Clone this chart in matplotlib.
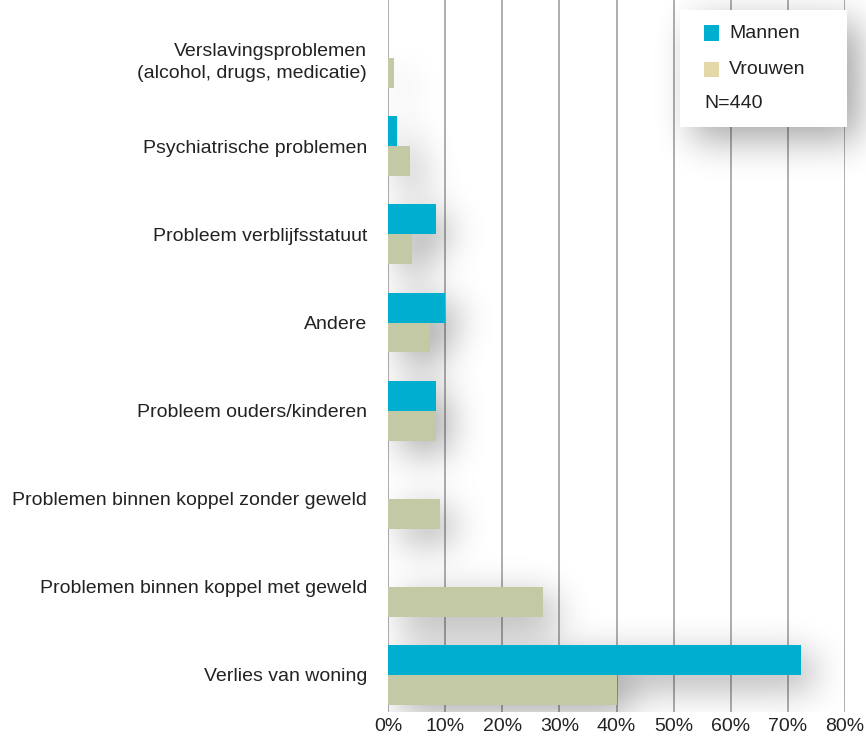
import numpy as np
import matplotlib.pyplot as plt
from matplotlib.patches import Rectangle

categories = [
    "Verslavingsproblemen\n(alcohol, drugs, medicatie)",
    "Psychiatrische problemen",
    "Probleem verblijfsstatuut",
    "Andere",
    "Probleem ouders/kinderen",
    "Problemen binnen koppel zonder geweld",
    "Problemen binnen koppel met geweld",
    "Verlies van woning",
]
mannen = [0.0, 1.5, 8.4, 10.0, 8.4, 0.0, 0.0, 72.3]
vrouwen = [1.0, 3.8, 4.2, 7.3, 8.4, 9.1, 27.1, 40.0]
xticks = [0, 10, 20, 30, 40, 50, 60, 70, 80]
n_label = "N=440"

blue = "#00AFCF"
green = "#C3C9A5"
beige_legend = "#E5D8A8"

plt.rcParams['font.family'] = ['Liberation Sans', 'DejaVu Sans']

fig = plt.figure(figsize=(8.66, 7.4), dpi=100)
ax = fig.add_axes([388 / 866, 1 - 712 / 740, 457 / 866, 712 / 740])

y = np.arange(len(categories))
h = 0.34
ylim = (len(categories) - 1 + 0.42, -0.66)
xlim = (0, 80)

# legend box position (axes fraction) and same box in data units for the shadow
lx0, lx1 = (680 - 388) / 457, (847 - 388) / 457
ly1, ly0 = 1 - 10 / 712, 1 - 127 / 712
yspan = ylim[0] - ylim[1]
leg_data = (lx0 * 80, lx1 * 80, ylim[0] - ly1 * yspan, ylim[0] - ly0 * yspan)

# soft drop shadow (blurred mask)
xmax_sh = 88
nx, ny = 620, 900
xs = np.linspace(xlim[0], xmax_sh, nx)
ys = np.linspace(ylim[1], ylim[0], ny)
X, Y = np.meshgrid(xs, ys)
mask = np.zeros_like(X)
dx, dy = 2.2, 0.14
for i in range(len(categories)):
    for val, top in ((mannen[i], y[i] - h), (vrouwen[i], y[i])):
        if val > 0:
            mask[(X >= dx) & (X <= val + dx) & (Y >= top + dy) & (Y <= top + h + dy)] = 1.0
a0, a1, b0, b1 = leg_data
mask[(X >= a0 + dx) & (X <= a1 + dx) & (Y >= b0 + dy) & (Y <= b1 + dy)] = 1.0


def blur(a, sigma, axis):
    r = int(3 * sigma)
    k = np.exp(-0.5 * (np.arange(-r, r + 1) / sigma) ** 2)
    k /= k.sum()
    pad = [(0, 0), (0, 0)]
    pad[axis] = (r, r)
    a = np.pad(a, pad)
    out = np.apply_along_axis(lambda m: np.convolve(m, k, mode='same'), axis, a)
    return out[r:-r, :] if axis == 0 else out[:, r:-r]


mask = blur(blur(mask, 24, 0), 22, 1)
shadow = np.zeros((ny, nx, 4))
shadow[..., 3] = np.clip(mask, 0, 1) * 0.36
ax.imshow(shadow, extent=(xlim[0], xmax_sh, ylim[0], ylim[1]), origin='upper',
          aspect='auto', zorder=1, interpolation='bilinear', clip_on=False)

ax.barh(y - h / 2, mannen, height=h, color=blue, zorder=3)
ax.barh(y + h / 2, vrouwen, height=h, color=green, zorder=3)

ax.set_xlim(*xlim)
ax.set_ylim(*ylim)
ax.set_yticks(y)
ax.set_yticklabels(categories, fontsize=14, color="#222222", linespacing=1.35)
ax.set_xticks(xticks)
ax.set_xticklabels([f"{t}%" for t in xticks], fontsize=14, color="#222222")
ax.tick_params(axis='both', length=0)
ax.tick_params(axis='y', pad=15)
ax.tick_params(axis='x', pad=4)
for s in ax.spines.values():
    s.set_visible(False)
ax.grid(axis='x', color="#A8A8A8", linewidth=1.3, zorder=2)
ax.set_axisbelow(True)

# legend box
ax.add_patch(Rectangle((lx0, ly0), lx1 - lx0, ly1 - ly0, transform=ax.transAxes,
                       facecolor='white', edgecolor='none', zorder=5, clip_on=False))
sq_w, sq_h = 15 / 457, 15 / 712
items = [("Mannen", blue, 33), ("Vrouwen", beige_legend, 70)]
for label, col, py in items:
    yc = 1 - py / 712
    ax.add_patch(Rectangle(((704 - 388) / 457, yc - sq_h / 2), sq_w, sq_h,
                           transform=ax.transAxes, facecolor=col, edgecolor='none',
                           zorder=6, clip_on=False))
    ax.text((729 - 388) / 457, yc, label, transform=ax.transAxes, fontsize=14,
            va='center', ha='left', color="#222222", zorder=6)
ax.text((704 - 388) / 457, 1 - 104 / 712, n_label, transform=ax.transAxes,
        fontsize=14, va='center', ha='left', color="#222222", zorder=6)

fig.savefig("out.png", dpi=100)
